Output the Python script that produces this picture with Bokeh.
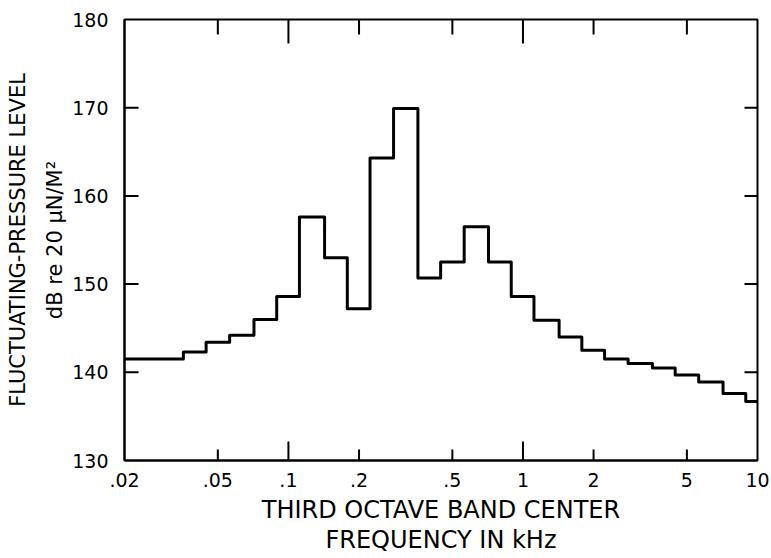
import math
from bokeh.plotting import figure
from bokeh.models import Range1d, FixedTicker
from bokeh.embed import file_html
from bokeh.resources import INLINE

# Third-octave band centre frequencies (kHz) and fluctuating-pressure levels (dB)
band_centers_khz = [0.02, 0.025, 0.0315, 0.04, 0.05, 0.063, 0.08, 0.1, 0.125, 0.16,
                    0.2, 0.25, 0.315, 0.4, 0.5, 0.63, 0.8, 1.0, 1.25, 1.6,
                    2.0, 2.5, 3.15, 4.0, 5.0, 6.3, 8.0, 10.0]
levels_db = [141.5, 141.5, 141.5, 142.3, 143.4, 144.2, 146.0, 148.6, 157.6, 153.0,
             147.2, 164.3, 169.9, 150.7, 152.5, 156.5, 152.5, 148.6, 145.9, 144.0,
             142.5, 141.5, 141.0, 140.5, 139.7, 138.9, 137.6, 136.7]

x_ticks = [0.02, 0.05, 0.1, 0.2, 0.5, 1.0, 2.0, 5.0, 10.0]
x_tick_labels = [".02", ".05", ".1", ".2", ".5", "1", "2", "5", "10"]
x_inner_ticks = [0.05, 0.2, 0.5, 2.0, 5.0]
x_decade_ticks = [0.1, 1.0]
y_ticks = [130, 140, 150, 160, 170, 180]
y_inner_ticks = [140, 150, 160, 170]

FONT = "DejaVu Sans"
X_MIN, X_MAX, Y_MIN, Y_MAX = 0.02, 10.0, 130, 180

# band edges: third-octave band spans centre * 10**(+-1/20)
half = 10 ** 0.05
edges = [c / half for c in band_centers_khz] + [band_centers_khz[-1] * half]
step_y = levels_db + [levels_db[-1]]

p = figure(width=771, height=558, x_axis_type="log",
           x_range=Range1d(X_MIN, X_MAX), y_range=Range1d(Y_MIN, Y_MAX),
           output_backend="svg", toolbar_location=None,
           min_border_left=124, min_border_right=14,
           min_border_top=19, min_border_bottom=98)
p.xgrid.visible = False
p.ygrid.visible = False
p.outline_line_color = "black"
p.outline_line_width = 2
p.background_fill_color = "white"
p.border_fill_color = "white"

p.step(edges, step_y, mode="after", line_color="black", line_width=3,
       line_join="round")

# inward ticks drawn as dash markers centred on the frame edge (outer half clipped)
def ticks(xs, ys, size, angle):
    p.scatter(xs, ys, marker="dash", size=size, angle=angle,
              line_color="black", line_width=2)

ticks(x_inner_ticks, [Y_MIN] * len(x_inner_ticks), 22, math.pi / 2)
ticks(x_decade_ticks, [Y_MIN] * len(x_decade_ticks), 38, math.pi / 2)
ticks(x_inner_ticks, [Y_MAX] * len(x_inner_ticks), 30, math.pi / 2)
ticks(x_decade_ticks, [Y_MAX] * len(x_decade_ticks), 48, math.pi / 2)
ticks([X_MIN] * len(y_inner_ticks), y_inner_ticks, 28, 0)
ticks([X_MAX] * len(y_inner_ticks), y_inner_ticks, 26, 0)

# bottom axis
xa = p.xaxis[0]
xa.ticker = FixedTicker(ticks=x_ticks)
xa.major_label_overrides = {t: l for t, l in zip(x_ticks, x_tick_labels)}
xa.major_tick_line_color = None
xa.minor_tick_line_color = None
xa.axis_line_width = 2
xa.major_label_text_font = FONT
xa.major_label_text_font_size = "19px"
xa.major_label_text_color = "black"
xa.major_label_standoff = 6
xa.axis_label = "THIRD OCTAVE BAND CENTER\nFREQUENCY IN kHz"
xa.axis_label_text_font = FONT
xa.axis_label_text_font_size = "24px"
xa.axis_label_text_font_style = "normal"
xa.axis_label_text_color = "black"
xa.axis_label_text_line_height = 1.1
xa.axis_label_standoff = 6

# left axis
ya = p.yaxis[0]
ya.ticker = FixedTicker(ticks=y_ticks)
ya.major_tick_line_color = None
ya.minor_tick_line_color = None
ya.axis_line_width = 2
ya.major_label_text_font = FONT
ya.major_label_text_font_size = "19px"
ya.major_label_text_color = "black"
ya.major_label_standoff = 10
ya.axis_label = "FLUCTUATING-PRESSURE LEVEL\ndB re 20 \u03bcN/M\u00b2"
ya.axis_label_text_font = FONT
ya.axis_label_text_font_size = "21px"
ya.axis_label_text_font_style = "normal"
ya.axis_label_text_color = "black"
ya.axis_label_text_line_height = 1.55
ya.axis_label_standoff = 2

open("out.html", "w").write(file_html(p, INLINE))
